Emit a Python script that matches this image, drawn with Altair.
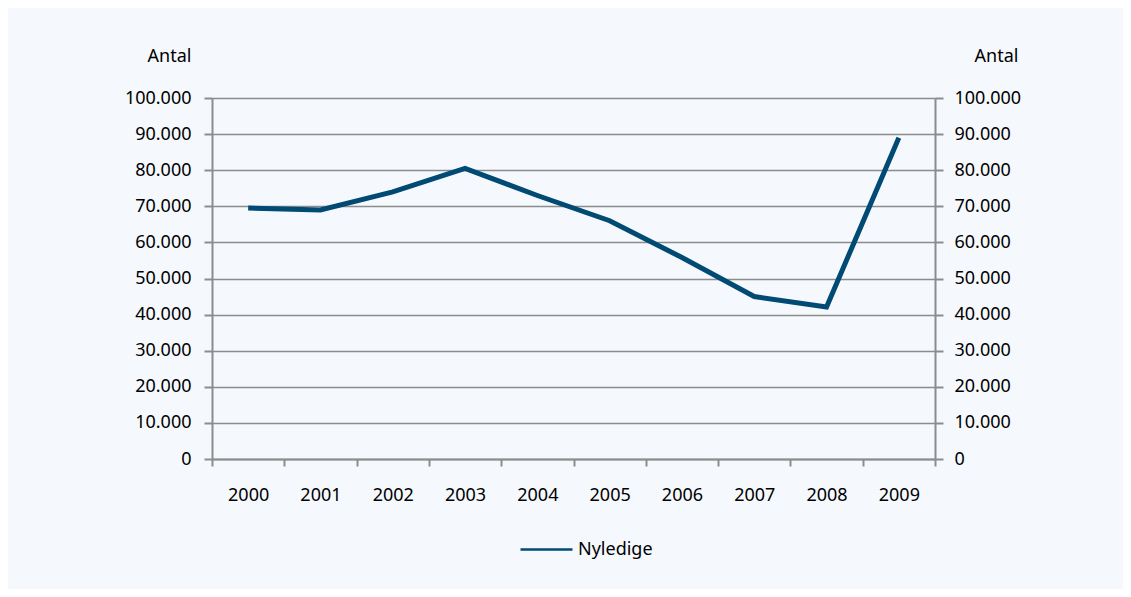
import altair as alt
import pandas as pd

years = ["2000", "2001", "2002", "2003", "2004", "2005", "2006", "2007", "2008", "2009"]
nyledige = [69500, 69000, 74000, 80500, 73000, 66000, 55800, 45000, 42100, 89000]
series_name = "Nyledige"
y_ticks = [0, 10000, 20000, 30000, 40000, 50000, 60000, 70000, 80000, 90000, 100000]

df = pd.DataFrame({"År": years, "Antal": nyledige, "Serie": [series_name] * len(years)})

FONT = "Noto Sans"
LINE = "#004a73"
GRID = "#8c8c8c"
BG = "#f5f9fd"
FS = 18
label_expr = "replace(format(datum.value, ',d'), ',', '.')"

x_enc = alt.X(
    "År:O",
    sort=years,
    scale=alt.Scale(type="band", paddingInner=0, paddingOuter=0),
    axis=alt.Axis(
        title=None, labelAngle=0, tickBand="extent", grid=False,
        domainColor=GRID, tickColor=GRID, domainWidth=2, tickWidth=2,
        tickSize=7, labelPadding=20, labelFontSize=FS, labelColor="#000000",
        labelFont=FONT,
    ),
)

y_scale = alt.Scale(domain=[0, 100000], nice=False)

def y_axis(orient, title_x, pad):
    return alt.Axis(
        orient=orient, values=y_ticks, labelExpr=label_expr, title="Antal",
        titleAngle=0, titleX=title_x, titleY=-42, titleAlign="center",
        titleBaseline="middle", titleFontSize=FS, titleFontWeight="normal",
        titleFont=FONT, titleColor="#000000",
        labelFontSize=FS, labelFont=FONT, labelColor="#000000",
        labelPadding=pad, tickSize=8, tickColor=GRID, tickWidth=2,
        domainColor=GRID, domainWidth=2,
        grid=(orient == "left"), gridColor=GRID, gridWidth=1.5,
    )

left = alt.Chart(df).mark_line(strokeWidth=5, strokeCap="butt", strokeJoin="miter").encode(
    x=x_enc,
    y=alt.Y("Antal:Q", scale=y_scale, axis=y_axis("left", -43, 13)),
    color=alt.Color(
        "Serie:N",
        scale=alt.Scale(domain=[series_name], range=[LINE]),
        legend=alt.Legend(
            title=None, orient="none", legendX=307, legendY=424,
            symbolType="stroke", symbolSize=2700, symbolStrokeWidth=2.5,
            labelFontSize=FS, labelFont=FONT, labelColor="#000000",
            labelOffset=4,
        ),
    ),
)

right = alt.Chart(df).mark_line(opacity=0).encode(
    x=x_enc,
    y=alt.Y("Antal:Q", scale=y_scale, axis=y_axis("right", 61, 11)),
)

chart = (
    alt.layer(left, right)
    .resolve_axis(y="independent")
    .properties(
        width=723, height=361,
        autosize=alt.AutoSizeParams(type="none"),
        padding={"left": 204, "top": 90, "right": 188, "bottom": 130},
        background=BG,
    )
    .configure_view(stroke=None)
)

chart.save("out.html", embed_options={"renderer": "svg", "actions": False})
